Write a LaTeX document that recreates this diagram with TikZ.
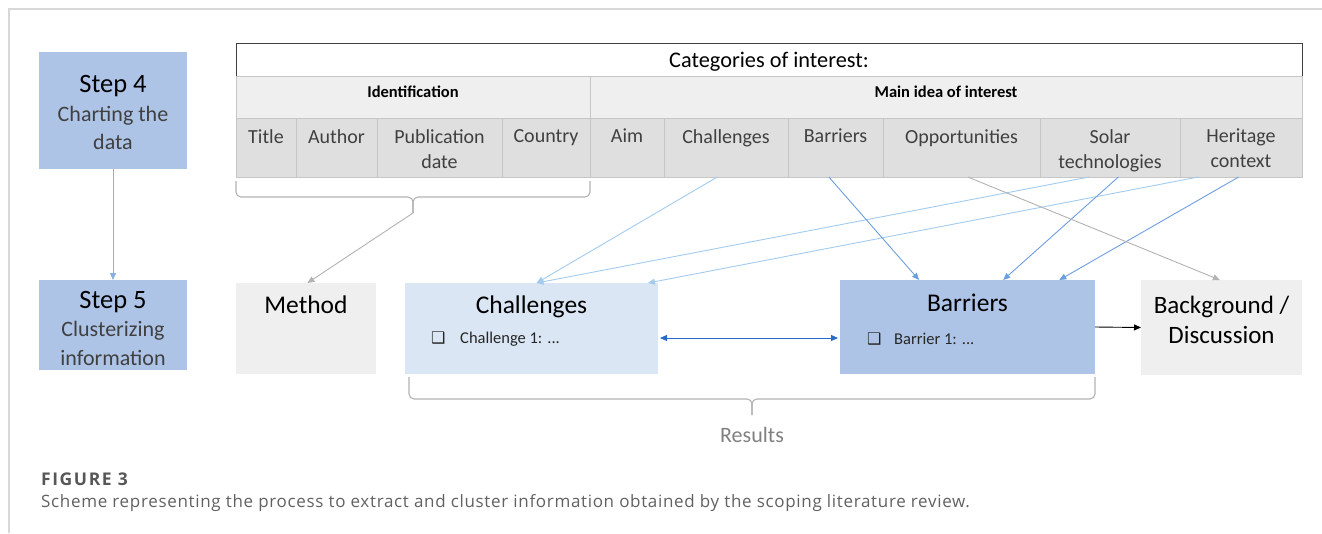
\documentclass[tikz,border=0pt]{standalone}
\usepackage{fontspec}
\setmainfont{Carlito}
\newfontfamily\symfont{DejaVu Sans}
\newfontfamily\capfont[LetterSpace=4]{Open Sans}
\newfontfamily\figfont[LetterSpace=9]{Open Sans}
\usetikzlibrary{arrows.meta,calc}
\definecolor{stepblue}{RGB}{174,196,231}
\definecolor{chlblue}{RGB}{218,230,244}
\definecolor{boxgray}{RGB}{239,239,239}
\definecolor{cellgray}{RGB}{223,223,223}
\definecolor{cellline}{RGB}{198,198,198}
\definecolor{arrlight}{RGB}{162,203,238}
\definecolor{arrmid}{RGB}{108,158,224}
\definecolor{arrdark}{RGB}{38,108,200}
\definecolor{arrstep}{RGB}{140,175,225}
\definecolor{arrgray}{RGB}{178,178,178}
\definecolor{txtgray}{RGB}{64,64,64}
\definecolor{framegray}{RGB}{216,216,216}
\newcommand{\fsize}[2]{\fontsize{#1}{#2}\selectfont}
\newcommand{\chkbox}{{\symfont ❑}}
% flat brace: left x, right x, top y, bar y, name of the tip
\newcommand{\drawbrace}[5]{
    \draw[bracegray] (#1,#3)--(#1,#4)--({(#1+#2)/2},#4)--({(#1+#2)/2},{#4+16});
    \draw[bracegray] (#2,#3)--(#2,#4)--({(#1+#2)/2},#4)--({(#1+#2)/2},{#4+16});
    \coordinate (#5) at ({(#1+#2)/2},{#4+16});
}
\tikzset{
    box/.style={anchor=north west, inner sep=0pt, outer sep=0pt},
    stepbox/.style={box, fill=stepblue, minimum width=148pt},
    cell/.style={box, draw=cellline, fill=cellgray, minimum height=59pt},
    headcell/.style={box, draw=cellline, fill=boxgray, minimum height=42pt},
    headlabel/.style={inner sep=0pt, font=\bfseries\fsize{16.5}{18}},
    collabel/.style={anchor=north, inner sep=0pt, align=center, text=txtgray, font=\fsize{20}{25}},
    boxtitle/.style={anchor=base, inner sep=0pt, font=\fsize{25.5}{30}},
    itemtext/.style={anchor=base west, inner sep=0pt, font=\fsize{16.5}{18}, text=black!85},
    bracegray/.style={draw=arrgray, line width=1.1pt, rounded corners=5pt},
    tip/.style={-{Triangle[length=7pt,width=6pt]}},
    link/.style={tip, line width=0.9pt},
}
\begin{document}
\begin{tikzpicture}[x=1pt,y=-1pt]
\useasboundingbox (0,0) rectangle (1322,533);
\draw[framegray, line width=1.5pt] (9,533)--(9,9)--(1322,9);

% steps
\node[stepbox, minimum height=117pt] (step4) at (39,52) {};
\node[align=center, text=txtgray, font=\fsize{22}{28.5}] at ($(step4.center)+(0,2)$)
    {{\color{black}\fsize{26.5}{28.5}Step 4}\\Charting the\\data};
\node[stepbox, minimum height=90pt] (step5) at (39,280) {};
\node[align=center, text=txtgray, font=\fsize{22}{28.5}] at ($(step5.center)+(0,3)$)
    {{\color{black}\fsize{26.5}{28.5}Step 5}\\Clusterizing\\information};
\draw[link, arrstep] (step4.south)--(step5.north);

% table
\node[box, draw=black!75, line width=0.9pt, minimum width=1066pt, minimum height=33pt] (cats) at (236,43) {};
\node[font=\fsize{22.3}{25}] at ($(cats.center)+(0,2)$) {Categories of interest:};
\node[headcell, minimum width=354pt] (ident) at (236,76) {};
\node[headlabel] at ($(ident.center)+(0,-5)$) {Identification};
\node[headcell, minimum width=712pt] (mainidea) at (590,76) {};
\node[headlabel] at ($(mainidea.center)+(0,-5)$) {Main idea of interest};
\foreach \nm/\xa/\cw/\lbl in {ctitle/236/60/Title, cauthor/296/81/Author,
    cpub/377/125/{Publication\\date}, ccountry/502/88/Country, caim/590/74/Aim,
    cchal/664/124/Challenges, cbarr/788/95/Barriers, copp/883/157/Opportunities,
    csolar/1040/140/{Solar\\technologies}, cherit/1180/122/{Heritage\\context}}{
    \node[cell, minimum width=\cw pt] (\nm) at (\xa,118) {};
    \node[collabel] at ($(\nm.north)+(0,11)$) {\lbl};
}

% clusters
\node[box, fill=boxgray, minimum width=140pt, minimum height=91pt] (method) at (236,283) {};
\node[boxtitle] at ($(method.north)+(0,30)$) {Method};
\node[box, fill=chlblue, minimum width=253pt, minimum height=91pt] (chal) at (405,283) {};
\node[boxtitle] at ($(chal.north)+(0,30)$) {Challenges};
\node[itemtext] at ($(chal.south west)+(26,-31)$) {\fsize{16}{18}\chkbox};
\node[itemtext] at ($(chal.south west)+(55,-31)$) {Challenge 1: ...};
\node[box, fill=stepblue, minimum width=255pt, minimum height=94pt] (barr) at (840,280) {};
\node[boxtitle] at ($(barr.north)+(0,31)$) {Barriers};
\node[itemtext] at ($(barr.south west)+(27,-30)$) {\fsize{16}{18}\chkbox};
\node[itemtext] at ($(barr.south west)+(54,-30)$) {Barrier 1: ...};
\node[box, fill=boxgray, minimum width=161pt, minimum height=95pt] (backg) at (1141,280) {};
\node[align=center, font=\fsize{25}{30}] at ($(backg.center)+(0,-8)$) {Background /\\Discussion};

% braces
\drawbrace{236}{590}{181}{197}{idtip}
\drawbrace{409}{1095}{377}{399}{restip}
\node[text=black!50, font=\fsize{22}{24}] at ($(restip)+(0,20)$) {Results};

% connectors
\draw[link, arrgray] (idtip)--($(method.north west)!0.51!(method.north east)$);
\draw[link, arrlight] ($(cchal.south west)!0.43!(cchal.south east)$)--($(chal.north west)!0.52!(chal.north east)$);
\draw[link, arrlight] ($(csolar.south west)!0.35!(csolar.south east)$)--($(chal.north west)!0.52!(chal.north east)$);
\draw[link, arrlight] ($(cherit.south west)!0.15!(cherit.south east)$)--($(chal.north west)!0.96!(chal.north east)$);
\draw[link, arrmid] ($(cbarr.south west)!0.43!(cbarr.south east)$)--($(barr.north west)!0.31!(barr.north east)$);
\draw[link, arrmid] ($(csolar.south west)!0.56!(csolar.south east)$)--($(barr.north west)!0.64!(barr.north east)$);
\draw[link, arrmid] ($(cherit.south west)!0.48!(cherit.south east)$)--($(barr.north west)!0.86!(barr.north east)$);
\draw[link, arrgray] ($(copp.south west)!0.54!(copp.south east)$)--($(backg.north west)!0.49!(backg.north east)$);
\draw[link, arrdark, {Triangle[length=7pt,width=6pt]}-{Triangle[length=7pt,width=6pt]}]
    ($(chal.south east)+(2,-36)$)--($(barr.south west)+(-2,-36)$);
\draw[link, black] (barr.east)--(backg.west);

% caption
\node[anchor=west, inner sep=0pt, text=black!66, font=\figfont\bfseries\fsize{17.5}{19}] at (41,479) {FIGURE 3};
\node[anchor=west, inner sep=0pt, text=black!62, font=\capfont\fsize{17}{19}] at (41,503)
    {Scheme representing the process to extract and cluster information obtained by the scoping literature review.};
\end{tikzpicture}
\end{document}
